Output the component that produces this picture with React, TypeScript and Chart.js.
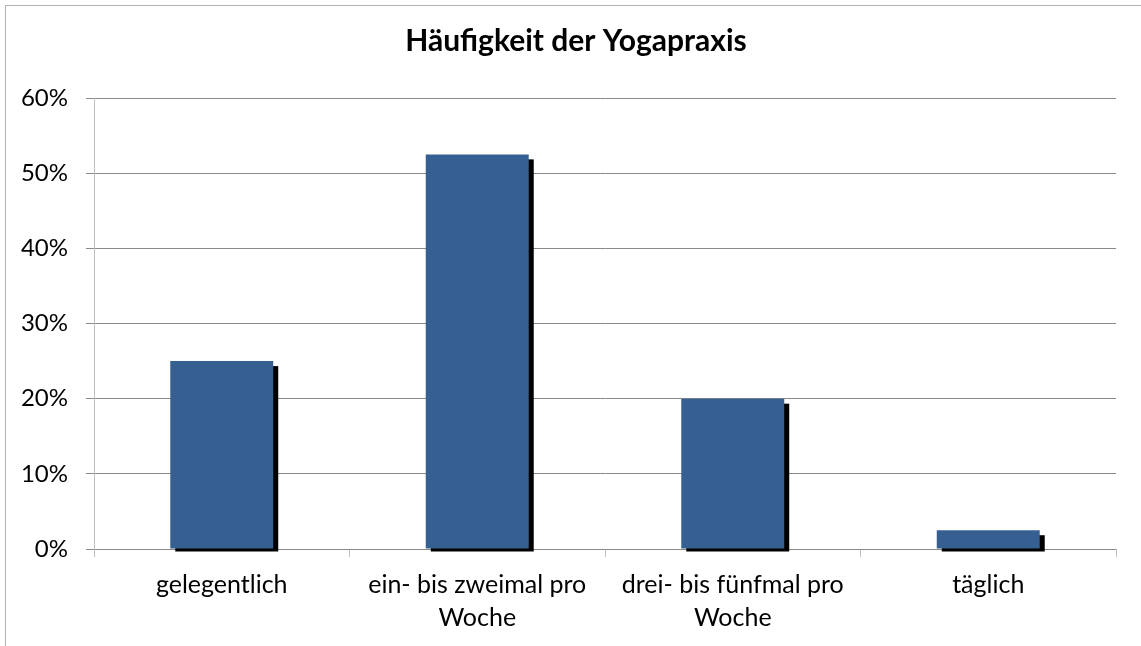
import React, { useEffect, useRef } from "react";
import { Chart, registerables } from "chart.js";

Chart.register(...registerables);

const categories: (string | string[])[] = [
  "gelegentlich",
  ["ein- bis zweimal pro", "Woche"],
  ["drei- bis fünfmal pro", "Woche"],
  "täglich",
];
const values: number[] = [25, 52.5, 20, 2.5];
const yTicks: number[] = [0, 10, 20, 30, 40, 50, 60];
const titleText = "Häufigkeit der Yogapraxis";

const shadowPlugin = {
  id: "barShadow",
  beforeDatasetsDraw(chart: any) {
    const ctx = chart.ctx;
    const meta = chart.getDatasetMeta(0);
    ctx.save();
    ctx.fillStyle = "#000000";
    meta.data.forEach((bar: any) => {
      const { x, y, base, width } = bar.getProps(["x", "y", "base", "width"], true);
      ctx.fillRect(x - width / 2 + 5, y + 5, width, base - y - 2);
    });
    ctx.restore();
  },
};

const titlePlugin = {
  id: "centeredTitle",
  afterDraw(chart: any) {
    const ctx = chart.ctx;
    ctx.save();
    ctx.fillStyle = "#000000";
    ctx.font = "bold 30px Lato";
    ctx.textAlign = "center";
    ctx.textBaseline = "alphabetic";
    ctx.fillText(titleText, 576, 51);
    ctx.restore();
  },
};

export default function App() {
  const ref = useRef<HTMLCanvasElement | null>(null);

  useEffect(() => {
    if (!ref.current) return;
    const chart = new Chart(ref.current, {
      type: "bar",
      data: {
        labels: categories as any,
        datasets: [
          {
            data: values,
            backgroundColor: "#366092",
            borderWidth: 0,
            categoryPercentage: 1,
            barPercentage: 0.403,
          },
        ],
      },
      options: {
        responsive: false,
        animation: false,
        devicePixelRatio: 1,
        layout: { padding: { left: 0, right: 25, top: 98, bottom: 0 } },
        plugins: {
          legend: { display: false },
          tooltip: { enabled: false },
          title: { display: false },
        },
        scales: {
          x: {
            grid: {
              display: true,
              drawOnChartArea: false,
              drawTicks: true,
              tickLength: 8,
              color: "#bfbfbf",
              offset: true,
            },
            border: { display: false },
            ticks: {
              color: "#000000",
              font: { family: "Lato", size: 25, lineHeight: 1.32 },
              padding: 11.5,
              maxRotation: 0,
              autoSkip: false,
            },
            afterFit: (scale: any) => {
              scale.height = 97;
            },
          },
          y: {
            min: 0,
            max: 60,
            afterBuildTicks: (scale: any) => {
              scale.ticks = yTicks.map((v) => ({ value: v }));
            },
            grid: {
              color: "#898989",
              drawTicks: true,
              tickLength: 8,
            },
            border: { display: true, color: "#bfbfbf", width: 1 },
            ticks: {
              color: "#000000",
              font: { family: "Lato", size: 24 },
              padding: 18,
              callback: (v: any) => `${v}%`,
            },
            afterFit: (scale: any) => {
              scale.width = 94;
            },
          },
        },
      },
      plugins: [shadowPlugin, titlePlugin],
    });
    return () => chart.destroy();
  }, []);

  return (
    <div
      style={{
        position: "absolute",
        left: 0,
        top: 0,
        width: 1141,
        height: 646,
        overflow: "hidden",
        background: "#ffffff",
      }}
    >
      <div
        style={{
          position: "absolute",
          left: 5,
          top: 5,
          width: 1200,
          height: 700,
          border: "1px solid #b3b3b3",
        }}
      />
      <canvas
        ref={ref}
        width={1141}
        height={646}
        style={{ position: "absolute", left: 0, top: 0, width: 1141, height: 646 }}
      />
    </div>
  );
}
